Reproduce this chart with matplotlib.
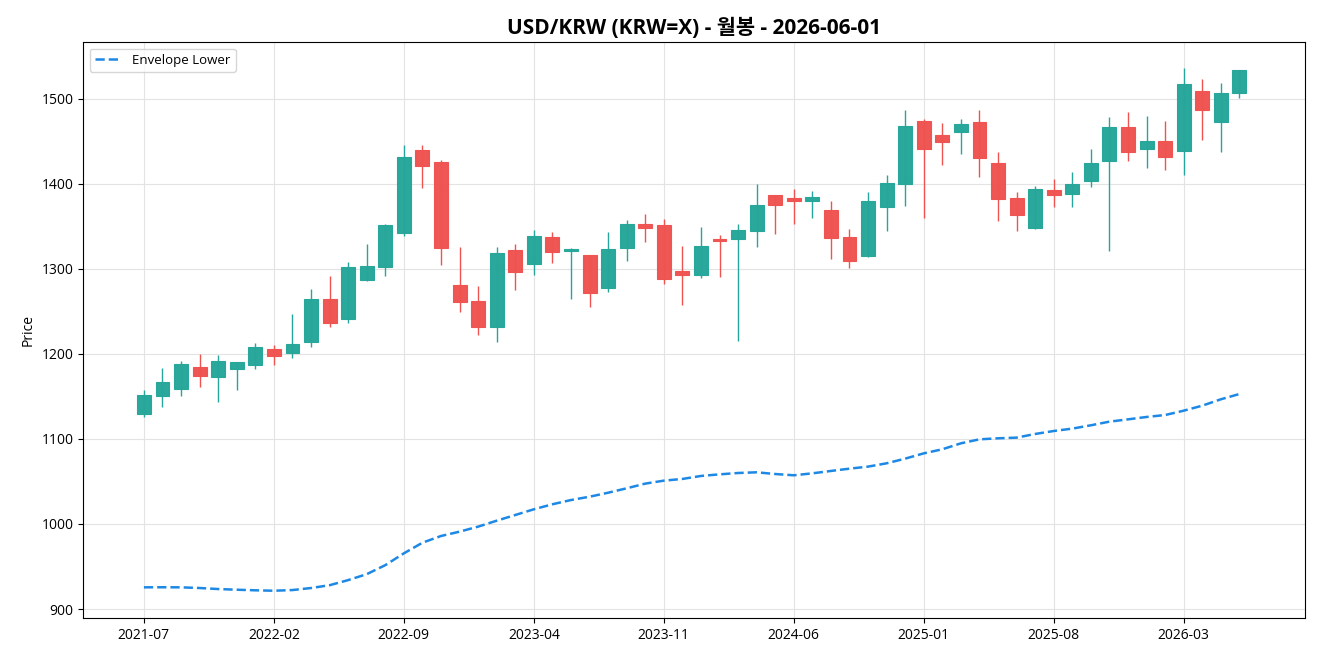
import matplotlib
matplotlib.use("Agg")
import matplotlib.pyplot as plt
import numpy as np

plt.rcParams['font.family'] = ['Open Sans', 'Noto Sans CJK KR', 'DejaVu Sans']

months = ["2021-07", "2021-08", "2021-09", "2021-10", "2021-11", "2021-12",
          "2022-01", "2022-02", "2022-03", "2022-04", "2022-05", "2022-06",
          "2022-07", "2022-08", "2022-09", "2022-10", "2022-11", "2022-12",
          "2023-01", "2023-02", "2023-03", "2023-04", "2023-05", "2023-06",
          "2023-07", "2023-08", "2023-09", "2023-10", "2023-11", "2023-12",
          "2024-01", "2024-02", "2024-03", "2024-04", "2024-05", "2024-06",
          "2024-07", "2024-08", "2024-09", "2024-10", "2024-11", "2024-12",
          "2025-01", "2025-02", "2025-03", "2025-04", "2025-05", "2025-06",
          "2025-07", "2025-08", "2025-09", "2025-10", "2025-11", "2025-12",
          "2026-01", "2026-02", "2026-03", "2026-04", "2026-05", "2026-06"]

opens = [1129.0, 1150.2, 1158.5, 1184.4, 1172.6, 1182.0, 1186.7, 1205.5, 1200.8, 1213.8,
         1264.3, 1240.8, 1286.7, 1302.0, 1342.0, 1439.6, 1425.5, 1280.8, 1262.0, 1231.4,
         1322.0, 1305.5, 1337.3, 1321.2, 1316.1, 1277.3, 1324.4, 1352.6, 1351.4, 1297.6,
         1292.5, 1335.0, 1335.0, 1344.4, 1386.7, 1383.2, 1379.6, 1369.0, 1337.3, 1315.0,
         1372.6, 1399.6, 1473.8, 1457.3, 1460.8, 1472.6, 1424.3, 1383.2, 1347.9, 1392.6,
         1387.9, 1403.2, 1426.7, 1466.7, 1440.8, 1450.2, 1438.5, 1509.0, 1472.6, 1506.7]
highs = [1157.6, 1183.9, 1191.8, 1200.0, 1198.8, 1190.5, 1212.6, 1210.6, 1247.4, 1276.5,
         1292.2, 1308.2, 1329.4, 1353.0, 1445.9, 1445.9, 1428.2, 1325.9, 1280.0, 1325.9,
         1329.4, 1345.9, 1343.5, 1324.7, 1316.8, 1343.5, 1358.0, 1364.7, 1358.4, 1327.0,
         1349.4, 1340.0, 1352.9, 1400.0, 1387.4, 1394.0, 1391.8, 1380.0, 1347.0, 1390.6,
         1410.6, 1487.0, 1476.5, 1471.8, 1476.5, 1487.0, 1437.6, 1390.6, 1397.3, 1405.9,
         1414.1, 1441.2, 1478.8, 1484.7, 1480.0, 1474.1, 1536.5, 1523.5, 1518.8, 1534.5]
lows = [1126.2, 1138.0, 1151.0, 1161.5, 1143.9, 1158.0, 1182.0, 1187.4, 1195.6, 1208.6,
        1232.1, 1236.9, 1286.0, 1292.0, 1339.2, 1395.7, 1305.0, 1249.8, 1222.7, 1214.5,
        1275.6, 1293.3, 1307.4, 1265.0, 1255.6, 1273.3, 1309.8, 1332.1, 1282.7, 1257.6,
        1289.8, 1291.0, 1215.6, 1326.3, 1341.5, 1353.3, 1360.4, 1311.8, 1301.5, 1313.8,
        1345.0, 1374.5, 1360.4, 1422.7, 1435.6, 1408.6, 1356.8, 1345.0, 1347.0, 1373.3,
        1373.3, 1396.8, 1321.6, 1427.4, 1419.2, 1416.8, 1411.0, 1452.1, 1438.0, 1501.5]
closes = [1151.8, 1166.7, 1187.9, 1173.8, 1191.4, 1190.2, 1207.9, 1197.3, 1211.4, 1264.3,
          1236.1, 1302.0, 1303.2, 1351.4, 1431.4, 1420.8, 1324.4, 1260.8, 1231.4, 1318.5,
          1296.1, 1338.5, 1319.6, 1323.9, 1271.4, 1323.2, 1352.6, 1347.9, 1288.2, 1292.5,
          1326.7, 1332.6, 1345.5, 1375.3, 1375.0, 1379.6, 1384.4, 1336.1, 1309.4, 1379.6,
          1400.8, 1467.9, 1440.8, 1449.0, 1470.2, 1430.2, 1382.0, 1363.2, 1393.8, 1386.7,
          1399.6, 1424.3, 1466.7, 1437.3, 1450.2, 1431.4, 1517.3, 1486.7, 1506.7, 1533.8]
envelope_lower = [925.5, 925.6, 925.5, 924.7, 923.5, 922.7, 922.0, 921.5, 922.3, 924.7,
                  928.0, 934.0, 941.0, 951.6, 965.5, 978.0, 985.9, 991.0, 996.9, 1003.9,
                  1010.6, 1017.3, 1023.2, 1028.2, 1032.1, 1036.8, 1042.0, 1047.5, 1051.0, 1053.0,
                  1056.5, 1058.4, 1060.0, 1060.8, 1058.8, 1057.3, 1059.6, 1062.4, 1065.1, 1067.5,
                  1071.4, 1076.9, 1083.1, 1087.9, 1094.9, 1099.6, 1100.8, 1101.6, 1105.9, 1109.4,
                  1112.2, 1116.1, 1120.4, 1123.1, 1125.9, 1128.2, 1133.3, 1139.2, 1146.7, 1152.9]

UP = "#26a69a"
DOWN = "#ef5350"

o = np.array(opens); h = np.array(highs); l = np.array(lows); c = np.array(closes)
x = np.arange(len(months))
colors = [UP if cc >= oo else DOWN for oo, cc in zip(o, c)]

fig = plt.figure(figsize=(13.2, 6.6), dpi=100)
ax = fig.add_axes([0.0629, 0.0636, 0.9257, 0.8728])

ax.vlines(x, l, h, colors=colors, linewidth=1.0, zorder=2)
bottoms = np.minimum(o, c)
heights = np.maximum(np.abs(c - o), 0.8)
ax.bar(x, heights, bottom=bottoms, width=0.75, color=colors,
       edgecolor=colors, linewidth=0.8, alpha=0.98, zorder=3)

ax.plot(x, envelope_lower, linestyle='--', color='#1e88e5', linewidth=1.8,
        label='Envelope Lower', zorder=4)

ax.set_xlim(-3.28, 62.53)
ax.set_ylim(889.4, 1567.0)
tick_idx = x[::7]
ax.set_xticks(tick_idx)
ax.set_xticklabels([months[i] for i in tick_idx], fontsize=10)
ax.set_yticks([900, 1000, 1100, 1200, 1300, 1400, 1500])
ax.tick_params(axis='y', labelsize=10)
ax.grid(True, color='#e3e3e3', linewidth=0.8, zorder=0)
ax.set_axisbelow(True)
ax.set_ylabel('Price', fontsize=10)
ax.set_title('USD/KRW (KRW=X) - 월봉 - 2026-06-01', fontsize=15, fontweight='bold')
ax.legend(loc='upper left', fontsize=9.5)

fig.savefig('out.png', dpi=100)
